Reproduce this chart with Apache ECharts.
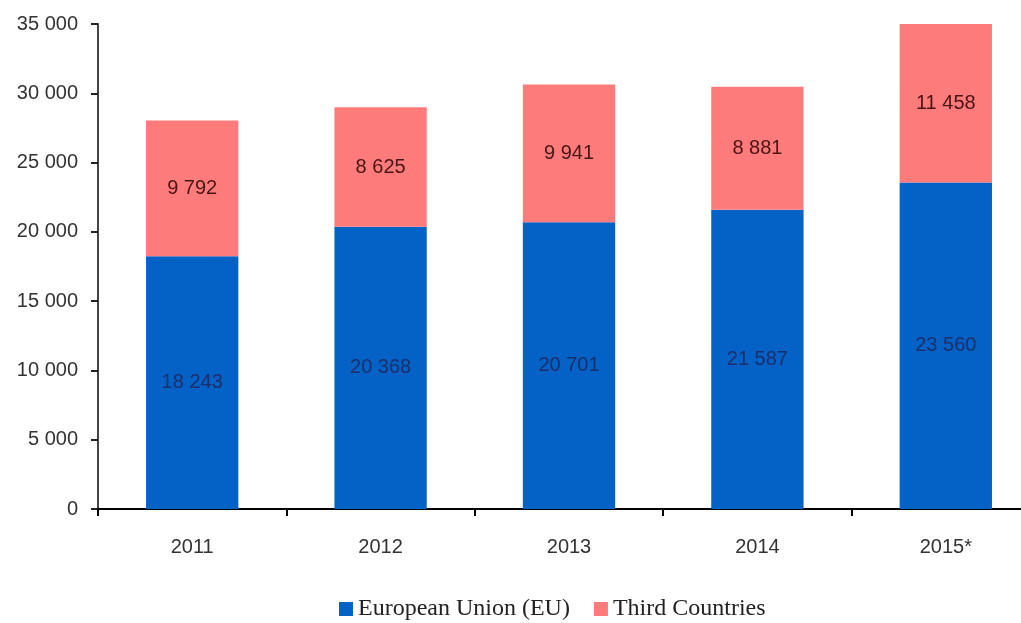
<!DOCTYPE html>
<html>
<head>
<meta charset="utf-8">
<script src="https://cdn.jsdelivr.net/npm/echarts@6/dist/echarts.min.js"></script>
<style>
  html, body { margin: 0; padding: 0; background: #ffffff; overflow: hidden; }
  /* the drawing surface is a little wider than the window, so the last band runs off the right edge */
  #chart { width: 1040px; height: 623px; }
</style>
</head>
<body>
<div id="chart"></div>
<script>
// Years shown on the category axis
const years = ['2011', '2012', '2013', '2014', '2015*'];
// Values per origin group
const euValues = [18243, 20368, 20701, 21587, 23560];
const thirdCountryValues = [9792, 8625, 9941, 8881, 11458];
// Value axis ticks
const yTicks = [0, 5000, 10000, 15000, 20000, 25000, 30000, 35000];

// Thousands separated by a space, e.g. 18 243
function spaced(n) {
  return String(n).replace(/\B(?=(\d{3})+(?!\d))/g, ' ');
}

const chart = echarts.init(document.getElementById('chart'));
chart.setOption({
  animation: false,
  backgroundColor: '#ffffff',
  grid: { left: 98, right: 0, top: 24, height: 485, containLabel: false },
  legend: {
    top: 592,
    left: 334,
    itemWidth: 14,
    itemHeight: 14,
    itemGap: 24,
    icon: 'rect',
    textStyle: { fontFamily: 'Liberation Serif', fontSize: 24, color: '#222' },
    data: ['European Union (EU)', 'Third Countries']
  },
  xAxis: {
    type: 'category',
    data: years,
    axisLine: { lineStyle: { color: '#000', width: 2 } },
    axisTick: { show: true, length: 7, lineStyle: { color: '#000', width: 2 } },
    axisLabel: { fontFamily: 'Liberation Sans', fontSize: 20, color: '#333', margin: 28 }
  },
  yAxis: {
    type: 'value',
    min: yTicks[0],
    max: yTicks[yTicks.length - 1],
    interval: 5000,
    splitLine: { show: false },
    axisLine: { show: true, lineStyle: { color: '#444', width: 2 } },
    axisTick: { show: true, length: 7, lineStyle: { color: '#222', width: 2 } },
    axisLabel: {
      fontFamily: 'Liberation Sans', fontSize: 20, color: '#333', margin: 20,
      formatter: v => spaced(v)
    }
  },
  series: [
    {
      name: 'European Union (EU)',
      type: 'bar',
      stack: 'total',
      data: euValues,
      barWidth: '49%',
      itemStyle: { color: '#0461c6' },
      label: {
        show: true, position: 'inside',
        fontFamily: 'Liberation Sans', fontSize: 20, color: '#1b2f6a',
        formatter: p => spaced(p.value)
      }
    },
    {
      name: 'Third Countries',
      type: 'bar',
      stack: 'total',
      data: thirdCountryValues,
      barWidth: '49%',
      itemStyle: { color: '#fe7b7b' },
      label: {
        show: true, position: 'inside',
        fontFamily: 'Liberation Sans', fontSize: 20, color: '#4a1414',
        formatter: p => spaced(p.value)
      }
    }
  ]
});
</script>
</body>
</html>
